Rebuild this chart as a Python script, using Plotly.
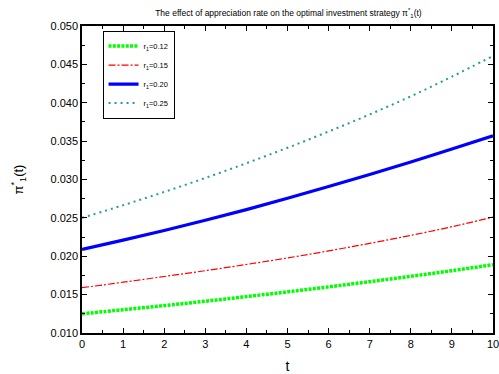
import plotly.graph_objects as go

t_vals = [0, 1, 2, 3, 4, 5, 6, 7, 8, 9, 10]
r012 = [0.0125, 0.01303, 0.01357, 0.01414, 0.01474, 0.01536, 0.01601, 0.01669, 0.01739, 0.01812, 0.0189]
r015 = [0.0159, 0.01662, 0.01736, 0.01812, 0.01893, 0.01978, 0.02070, 0.02168, 0.02272, 0.02385, 0.0251]
r020 = [0.0209, 0.0221, 0.02336, 0.02469, 0.02608, 0.02755, 0.02908, 0.03066, 0.03229, 0.03398, 0.0357]
r025 = [0.0250, 0.02665, 0.02838, 0.03020, 0.03212, 0.03413, 0.03625, 0.03848, 0.04084, 0.04340, 0.0461]
names = ["r<sub>1</sub>=0.12", "r<sub>1</sub>=0.15", "r<sub>1</sub>=0.20", "r<sub>1</sub>=0.25"]

fig = go.Figure()
fig.add_trace(go.Scatter(x=t_vals, y=r012, name=names[0], mode="lines",
                         line=dict(color="#00ff00", width=3.5, dash="3px,1.3px", shape="spline")))
fig.add_trace(go.Scatter(x=t_vals, y=r015, name=names[1], mode="lines",
                         line=dict(color="#ff0000", width=1.2, dash="7px,2px,2px,2px", shape="spline")))
fig.add_trace(go.Scatter(x=t_vals, y=r020, name=names[2], mode="lines",
                         line=dict(color="#0000ff", width=3.2, shape="spline")))
fig.add_trace(go.Scatter(x=t_vals, y=r025, name=names[3], mode="lines",
                         line=dict(color="#2a9a9a", width=2, dash="2px,4px", shape="spline")))

axis_common = dict(showline=True, linecolor="black", linewidth=1.5, mirror="ticks",
                   ticks="inside", ticklen=5, tickcolor="black", tickwidth=1,
                   showgrid=False, zeroline=False, automargin=False,
                   ticklabeloverflow="allow",
                   tickfont=dict(family="Liberation Sans, Arial", size=11, color="black"))

fig.update_layout(
    width=499, height=374,
    margin=dict(l=82, r=6, t=26, b=41),
    paper_bgcolor="white", plot_bgcolor="white",
    title=dict(text="The effect of appreciation rate on the optimal investment strategy π<sup>*</sup><sub>1</sub>(t)",
               x=0.578, xanchor="center", y=0.965, yanchor="middle",
               font=dict(family="Liberation Sans, Arial", size=8.5, color="black")),
    xaxis=dict(range=[0, 10], dtick=1, tick0=0,
               title=dict(text="t", font=dict(family="Liberation Sans, Arial", size=14, color="black"), standoff=14),
               minor=dict(ticks="inside", ticklen=3, dtick=0.5, tickcolor="black"),
               **axis_common),
    yaxis=dict(range=[0.010, 0.050], dtick=0.005, tickformat=".3f",
               title=dict(text="π<sup>*</sup><sub>1</sub>(t)", font=dict(family="Liberation Sans, Arial", size=13, color="black"), standoff=24),
               minor=dict(ticks="inside", ticklen=3, dtick=0.0025, tickcolor="black"),
               **axis_common),
    legend=dict(x=0.05, y=0.985, xanchor="left", yanchor="top",
                bgcolor="white", bordercolor="black", borderwidth=1,
                font=dict(family="Liberation Sans, Arial", size=7.5, color="black"),
                itemwidth=30, tracegroupgap=0),
    showlegend=True,
)

fig.write_html("out.html")
